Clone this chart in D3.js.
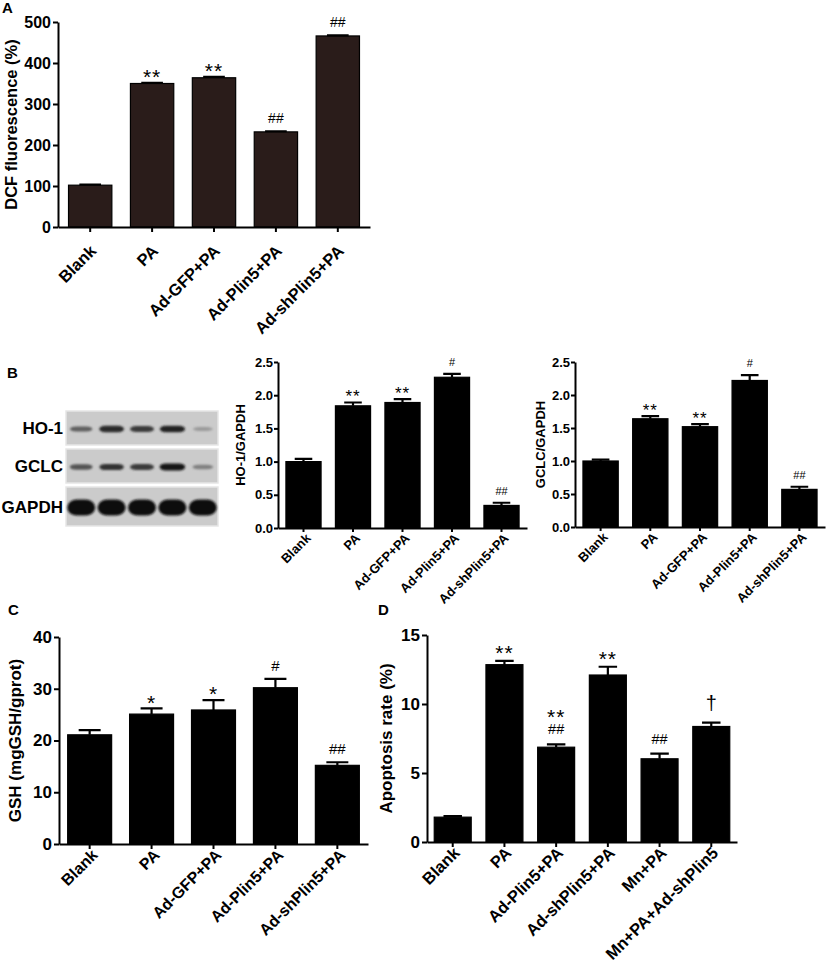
<!DOCTYPE html>
<html>
<head>
<meta charset="utf-8">
<script src="https://cdn.jsdelivr.net/npm/d3@7"></script>
<style>
  body { margin: 0; background: #fff; }
  svg { display: block; font-family: "Liberation Sans", Arial, sans-serif; }
</style>
</head>
<body>
<div id="chart"></div>
<script>
// ---- data ----
const groups5 = ["Blank", "PA", "Ad-GFP+PA", "Ad-Plin5+PA", "Ad-shPlin5+PA"];

// A: DCF fluorescence
const dcfMean = [102, 350, 364, 232, 466];
const dcfErr = [1.5, 1.5, 2, 1.5, 1.5];
const dcfMarks = ["", "**", "**", "##", "##"];
const dcfTicks = [0, 100, 200, 300, 400, 500];

// B: western blot band strength (0..1) per lane
const blotRows = ["HO-1", "GCLC", "GAPDH"];
const hoBand = [0.55, 0.85, 0.75, 0.9, 0.2];
const gclcBand = [0.6, 0.8, 0.75, 0.95, 0.35];
const gapdhBand = [1, 1, 1, 1, 1];

// B: quantification
const hoMean = [1.00, 1.84, 1.89, 2.27, 0.34];
const hoErr = [0.04, 0.05, 0.05, 0.05, 0.04];
const hoMarks = ["", "**", "**", "#", "##"];
const gclcMean = [1.00, 1.64, 1.52, 2.22, 0.57];
const gclcErr = [0.02, 0.04, 0.04, 0.08, 0.04];
const gclcMarks = ["", "**", "**", "#", "##"];
const ratioTicks = [0, 0.5, 1.0, 1.5, 2.0, 2.5];

// C: GSH
const gshMean = [21.1, 25.1, 25.9, 30.2, 15.2];
const gshErr = [0.9, 1.1, 1.9, 1.7, 0.6];
const gshMarks = ["", "*", "*", "#", "##"];
const gshTicks = [0, 10, 20, 30, 40];

// D: apoptosis
const groupsD = ["Blank", "PA", "Ad-Plin5+PA", "Ad-shPlin5+PA", "Mn+PA", "Mn+PA+Ad-shPlin5"];
const apopMean = [1.8, 12.85, 6.87, 12.1, 6.03, 8.37];
const apopErr = [0.08, 0.27, 0.2, 0.6, 0.38, 0.28];
const apopMarks = ["", "**", "**\n##", "**", "##", "\u2020"];
const apopTicks = [0, 5, 10, 15];

// ---- svg ----
const svg = d3.select("#chart")
  .append("svg")
  .attr("width", 829)
  .attr("height", 964);

svg.append("rect").attr("width", 829).attr("height", 964).attr("fill", "#fff");

// rough glyph metrics for the significance marks: [centre above baseline, half height] in em
const glyph = { "*": [0.58, 0.14], "#": [0.36, 0.36], "\u2020": [0.3, 0.42] };

function barChart(cfg) {
  const g = svg.append("g");

  const x = d3.scaleBand()
    .domain(cfg.groups)
    .range([cfg.x0, cfg.x1])
    .paddingInner(cfg.pIn)
    .paddingOuter(cfg.pOut);

  const y = d3.scaleLinear()
    .domain([0, d3.max(cfg.ticks)])
    .range([cfg.yBot, cfg.yTop]);

  const rows = cfg.groups.map((k, i) => ({ k, m: cfg.mean[i], e: cfg.err[i], s: cfg.marks[i] }));

  // bars
  g.selectAll("rect.bar")
    .data(rows)
    .join("rect")
    .attr("class", "bar")
    .attr("x", d => x(d.k))
    .attr("y", d => y(d.m))
    .attr("width", x.bandwidth())
    .attr("height", d => y(0) - y(d.m))
    .attr("fill", cfg.color)
    .attr("stroke", "#000")
    .attr("stroke-width", 1.2);

  // error bars (upper half only)
  const capW = x.bandwidth() * 0.5;
  g.selectAll("path.err")
    .data(rows)
    .join("path")
    .attr("class", "err")
    .attr("fill", "none")
    .attr("stroke", "#000")
    .attr("stroke-width", 2.2)
    .attr("d", d => {
      const cx = x(d.k) + x.bandwidth() / 2;
      return `M${cx},${y(d.m)}V${y(d.m + d.e)}M${cx - capW / 2},${y(d.m + d.e)}H${cx + capW / 2}`;
    });

  // significance marks, stacked upward from the cap (one text, a tspan per line)
  rows.forEach(d => {
    if (!d.s) return;
    const cx = x(d.k) + x.bandwidth() / 2;
    const t = g.append("text").attr("text-anchor", "middle");
    let bottom = y(d.m + d.e) - cfg.markGap;
    d.s.split("\n").reverse().forEach(line => {
      const ch = line[0];
      const fs = ch === "*" ? cfg.starSize : ch === "#" ? cfg.hashSize : cfg.daggerSize;
      const [c, h] = glyph[ch];
      const centre = bottom - h * fs;
      t.append("tspan")
        .attr("x", cx)
        .attr("y", centre + c * fs)
        .attr("font-size", fs)
        .attr("letter-spacing", ch === "*" ? 1 : 0)
        .text(line);
      bottom = centre - h * fs - cfg.lineGap;
    });
  });

  // axes
  const yAxis = g.append("g")
    .attr("transform", `translate(${cfg.x0},0)`)
    .call(d3.axisLeft(y).tickValues(cfg.ticks).tickFormat(cfg.fmt)
      .tickSize(cfg.tick).tickSizeOuter(0).tickPadding(cfg.tickPad));

  const xAxis = g.append("g")
    .attr("transform", `translate(0,${cfg.yBot})`)
    .call(d3.axisBottom(x).tickSize(cfg.tick).tickSizeOuter(0));

  [yAxis, xAxis].forEach(a => {
    a.select(".domain").attr("stroke-width", 2);
    a.selectAll(".tick line").attr("stroke-width", 2);
  });
  yAxis.selectAll("text")
    .attr("font-size", cfg.tickFont)
    .attr("font-weight", "bold")
    .attr("font-family", "Liberation Sans, Arial, sans-serif")
    .attr("fill", "#000");
  xAxis.selectAll("text")
    .attr("x", 0).attr("y", 0).attr("dy", 0)
    .attr("text-anchor", "end")
    .attr("transform", `translate(${cfg.lab[0]},${cfg.lab[1]}) rotate(-45)`)
    .attr("font-size", cfg.labelFont)
    .attr("font-weight", "bold")
    .attr("font-family", "Liberation Sans, Arial, sans-serif")
    .attr("fill", "#000");

  // y title
  g.append("text")
    .attr("transform", `translate(${cfg.titleX},${(cfg.yTop + cfg.yBot) / 2}) rotate(-90)`)
    .attr("dy", "0.35em")
    .attr("text-anchor", "middle")
    .attr("font-size", cfg.titleFont)
    .attr("font-weight", "bold")
    .text(cfg.title);
}

function panelLetter(t, px, py) {
  svg.append("text").attr("x", px).attr("y", py)
    .attr("font-size", 15).attr("font-weight", "bold").text(t);
}

// ---- A ----
panelLetter("A", 2, 13);
barChart({
  groups: groups5, mean: dcfMean, err: dcfErr, marks: dcfMarks, ticks: dcfTicks,
  fmt: d3.format("d"), x0: 58, x1: 370, yTop: 22, yBot: 227, pIn: 0.3, pOut: 0.17,
  color: "#2a1c1a", tick: 5, tickPad: 2, tickFont: 16, labelFont: 16.5, lab: [7, 25],
  title: "DCF fluorescence (%)", titleX: 11, titleFont: 16.5,
  starSize: 21, hashSize: 14, daggerSize: 20, markGap: 8, lineGap: 8
});

// ---- B blot ----
panelLetter("B", 7, 378);
const lane = d3.scaleBand().domain(groups5).range([66, 218]);
const rowY = d3.scaleOrdinal().domain(blotRows).range([[411, 445], [449, 483], [487, 526]]);
const bandVals = [hoBand, gclcBand, gapdhBand];

const defs = svg.append("defs");
defs.append("filter").attr("id", "blur")
  .attr("x", "-30%").attr("y", "-60%").attr("width", "160%").attr("height", "220%")
  .append("feGaussianBlur").attr("stdDeviation", 1.1);

blotRows.forEach((r, ri) => {
  const [t, b] = rowY(r);
  svg.append("rect").attr("x", 66).attr("y", t).attr("width", 152).attr("height", b - t)
    .attr("fill", "#cbcbcb").attr("stroke", "#e6e6e6").attr("stroke-width", 1.5);
  svg.append("text").attr("x", 63).attr("y", (t + b) / 2).attr("dy", "0.36em")
    .attr("text-anchor", "end").attr("font-size", 17).attr("font-weight", "bold").text(r);
  const big = r === "GAPDH";
  svg.append("g").attr("filter", "url(#blur)")
    .selectAll("rect")
    .data(bandVals[ri].map((v, i) => ({ v, k: groups5[i] })))
    .join("rect")
    .attr("x", d => lane(d.k) + lane.bandwidth() / 2 - (big ? 14 : 9 + 4 * d.v))
    .attr("width", d => 2 * (big ? 14 : 9 + 4 * d.v))
    .attr("y", d => (t + b) / 2 + 1 - (big ? 8 : 1.5 + 2 * d.v))
    .attr("height", d => 2 * (big ? 8 : 1.5 + 2 * d.v))
    .attr("rx", d => big ? 10 : 6)
    .attr("ry", d => big ? 8 : 1.5 + 2 * d.v)
    .attr("fill", d => d3.interpolateRgb("#bdbdbd", "#101010")(d.v));
});

// ---- B charts ----
barChart({
  groups: groups5, mean: hoMean, err: hoErr, marks: hoMarks, ticks: ratioTicks,
  fmt: d3.format(".1f"), x0: 278, x1: 527, yTop: 362, yBot: 528, pIn: 0.29, pOut: 0.16,
  color: "#000", tick: 4, tickPad: 1, tickFont: 13, labelFont: 13, lab: [8, 11],
  title: "HO-1/GAPDH", titleX: 240, titleFont: 13,
  starSize: 17, hashSize: 11, daggerSize: 17, markGap: 8, lineGap: 6
});
barChart({
  groups: groups5, mean: gclcMean, err: gclcErr, marks: gclcMarks, ticks: ratioTicks,
  fmt: d3.format(".1f"), x0: 575, x1: 825, yTop: 362, yBot: 527, pIn: 0.29, pOut: 0.16,
  color: "#000", tick: 4, tickPad: 1, tickFont: 13, labelFont: 13, lab: [8, 11],
  title: "GCLC/GAPDH", titleX: 540, titleFont: 13,
  starSize: 17, hashSize: 11, daggerSize: 17, markGap: 8, lineGap: 6
});

// ---- C ----
panelLetter("C", 8, 615);
barChart({
  groups: groups5, mean: gshMean, err: gshErr, marks: gshMarks, ticks: gshTicks,
  fmt: d3.format("d"), x0: 59, x1: 368, yTop: 637, yBot: 844, pIn: 0.29, pOut: 0.14,
  color: "#000", tick: 5, tickPad: 2, tickFont: 17, labelFont: 16, lab: [9, 12],
  title: "GSH (mgGSH/gprot)", titleX: 15, titleFont: 17,
  starSize: 21, hashSize: 15, daggerSize: 20, markGap: 8, lineGap: 8
});

// ---- D ----
panelLetter("D", 378, 615);
barChart({
  groups: groupsD, mean: apopMean, err: apopErr, marks: apopMarks, ticks: apopTicks,
  fmt: d3.format("d"), x0: 427, x1: 737, yTop: 635, yBot: 842, pIn: 0.285, pOut: 0.14,
  color: "#000", tick: 5, tickPad: 2, tickFont: 17, labelFont: 16.5, lab: [8, 12],
  title: "Apoptosis rate (%)", titleX: 386, titleFont: 17,
  starSize: 21, hashSize: 14.5, daggerSize: 20, markGap: 10, lineGap: 9
});
</script>
</body>
</html>
